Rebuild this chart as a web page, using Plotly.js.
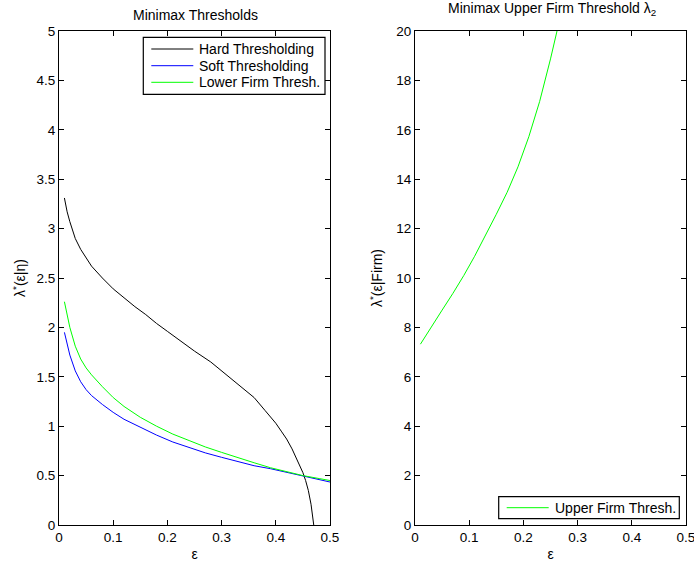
<!DOCTYPE html>
<html>
<head>
<meta charset="utf-8">
<script src="https://cdn.plot.ly/plotly-3.0.1.min.js"></script>
<style>html,body{margin:0;padding:0;background:#fff;}#chart{width:694px;height:562px;}</style>
</head>
<body>
<div id="chart"></div>
<script>
// Left panel: minimax thresholds vs epsilon
const hardX = [0.01,0.015,0.02,0.03,0.04,0.05,0.06,0.08,0.10,0.12,0.14,0.16,0.18,0.20,0.22,0.25,0.28,0.31,0.34,0.36,0.38,0.40,0.41,0.42,0.43,0.44,0.45,0.455,0.46,0.465,0.47];
const hardY = [3.31,3.17,3.07,2.90,2.79,2.70,2.62,2.50,2.39,2.30,2.21,2.13,2.04,1.96,1.88,1.76,1.65,1.515,1.385,1.29,1.16,1.03,0.95,0.87,0.77,0.65,0.53,0.45,0.35,0.21,0.0];

const softX = [0.01,0.02,0.03,0.04,0.05,0.06,0.08,0.10,0.12,0.15,0.18,0.21,0.24,0.27,0.30,0.33,0.36,0.39,0.42,0.45,0.48,0.50];
const softY = [1.95,1.72,1.56,1.45,1.37,1.31,1.22,1.14,1.07,0.99,0.91,0.84,0.785,0.73,0.685,0.64,0.60,0.57,0.535,0.495,0.46,0.435];

const lowerX = [0.01,0.02,0.03,0.04,0.05,0.06,0.08,0.10,0.12,0.15,0.18,0.21,0.24,0.27,0.30,0.33,0.36,0.39,0.42,0.45,0.48,0.50];
const lowerY = [2.26,2.00,1.81,1.68,1.59,1.52,1.40,1.29,1.20,1.09,1.00,0.92,0.855,0.79,0.735,0.68,0.63,0.58,0.54,0.50,0.47,0.45];

// Right panel: upper firm threshold
const upperX = [0.01,0.03,0.05,0.07,0.09,0.11,0.13,0.15,0.17,0.19,0.21,0.23,0.25,0.27];
const upperY = [7.32,8.03,8.70,9.38,10.10,10.88,11.72,12.58,13.47,14.50,15.72,17.15,18.87,20.75];

const seriesNames = ['Hard Thresholding', 'Soft Thresholding', 'Lower Firm Thresh.', 'Upper Firm Thresh.'];
const seriesColors = ['#000000', '#0000ff', '#00ff00', '#00ff00'];

const xTicks = [0,0.1,0.2,0.3,0.4,0.5];
const xTickText = ['0','0.1','0.2','0.3','0.4','0.5'];
const leftYTicks = [0,0.5,1,1.5,2,2.5,3,3.5,4,4.5,5];
const leftYTickText = ['0','0.5','1','1.5','2','2.5','3','3.5','4','4.5','5'];
const rightYTicks = [0,2,4,6,8,10,12,14,16,18,20];
const rightYTickText = ['0','2','4','6','8','10','12','14','16','18','20'];

const FONT = 'Liberation Sans, Arial, Helvetica, sans-serif';
const W = 694, H = 562;
const px = v => v / W;
const py = v => 1 - v / H;

const traces = [
  {x: hardX, y: hardY, mode: 'lines', name: seriesNames[0], line: {color: seriesColors[0], width: 1}, xaxis: 'x', yaxis: 'y'},
  {x: softX, y: softY, mode: 'lines', name: seriesNames[1], line: {color: seriesColors[1], width: 1}, xaxis: 'x', yaxis: 'y'},
  {x: lowerX, y: lowerY, mode: 'lines', name: seriesNames[2], line: {color: seriesColors[2], width: 1}, xaxis: 'x', yaxis: 'y'},
  {x: upperX, y: upperY, mode: 'lines', name: seriesNames[3], line: {color: seriesColors[3], width: 1}, xaxis: 'x2', yaxis: 'y2'}
];

const axBase = {
  showline: true, linecolor: '#000', linewidth: 1, mirror: 'ticks',
  ticks: 'inside', ticklen: 5, tickcolor: '#000', tickwidth: 1,
  showgrid: false, zeroline: false, ticklabeloverflow: 'allow',
  tickfont: {family: FONT, size: 13.5, color: '#000'}
};

// Legend boxes (drawn as shapes + text, MATLAB-style compact legends)
const shapes = [];
const annotations = [];
function addLegend(box, rows, idxs) {
  shapes.push({type: 'rect', xref: 'paper', yref: 'paper', x0: px(box[0]), x1: px(box[1]), y0: py(box[2]), y1: py(box[3]),
    line: {color: '#000', width: 1.2}, fillcolor: '#fff', layer: 'above'});
  idxs.forEach((k, i) => {
    shapes.push({type: 'line', xref: 'paper', yref: 'paper', x0: px(box[0] + 8), x1: px(box[0] + 50), y0: py(rows[i]), y1: py(rows[i]),
      line: {color: seriesColors[k], width: 1}, layer: 'above'});
    annotations.push({text: seriesNames[k], xref: 'paper', yref: 'paper', x: px(box[0] + 54), y: py(rows[i]), xanchor: 'left', yanchor: 'middle',
      showarrow: false, font: {family: FONT, size: 14, color: '#000'}});
  });
}
addLegend([143.3, 325, 37.3, 94.3], [49, 65.7, 82.3], [0, 1, 2]);
addLegend([498.7, 679.3, 496.7, 518.7], [507.7], [3]);

annotations.push(
  {text: 'Minimax Thresholds', xref: 'paper', yref: 'paper', x: px(195), y: py(15), xanchor: 'center', yanchor: 'middle', showarrow: false, font: {family: FONT, size: 14, color: '#000'}},
  {text: 'Minimax Upper Firm Threshold λ<sub>2</sub>', xref: 'paper', yref: 'paper', x: px(552), y: py(9), xanchor: 'center', yanchor: 'middle', showarrow: false, font: {family: FONT, size: 14, color: '#000'}}
);

const layout = {
  width: W, height: H,
  margin: {l: 0, r: 0, t: 0, b: 0},
  paper_bgcolor: '#fff', plot_bgcolor: '#fff',
  font: {family: FONT, size: 14, color: '#000'},
  showlegend: false,
  xaxis: Object.assign({}, axBase, {domain: [59/W, 330/W], range: [0, 0.5], tickvals: xTicks, ticktext: xTickText, anchor: 'y',
    title: {text: 'ε', font: {family: FONT, size: 14}, standoff: 8}}),
  yaxis: Object.assign({}, axBase, {domain: [37/H, 531/H], range: [0, 5], tickvals: leftYTicks, ticktext: leftYTickText, anchor: 'x',
    title: {text: 'λ<sup>*</sup>(ε|η)', font: {family: FONT, size: 14}, standoff: 7}}),
  xaxis2: Object.assign({}, axBase, {domain: [415/W, 686/W], range: [0, 0.5], tickvals: xTicks, ticktext: xTickText, anchor: 'y2',
    title: {text: 'ε', font: {family: FONT, size: 14}, standoff: 8}}),
  yaxis2: Object.assign({}, axBase, {domain: [37/H, 531/H], range: [0, 20], tickvals: rightYTicks, ticktext: rightYTickText, anchor: 'x2',
    title: {text: 'λ<sup>*</sup>(ε|Firm)', font: {family: FONT, size: 14}, standoff: 10}}),
  shapes: shapes,
  annotations: annotations
};

Plotly.newPlot('chart', traces, layout, {displayModeBar: false, staticPlot: true});
</script>
</body>
</html>
